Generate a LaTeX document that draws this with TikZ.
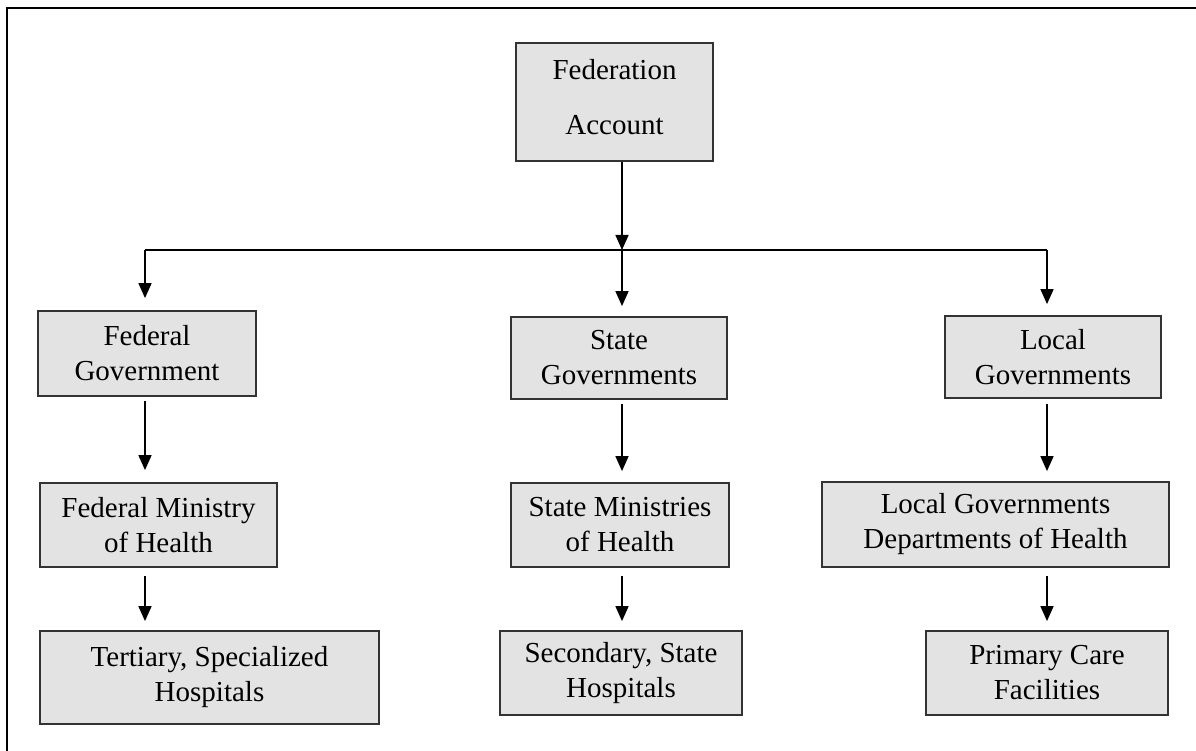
\documentclass[tikz,border=0pt]{standalone}
\usepackage{fontspec}
\setmainfont{Liberation Serif}
\usetikzlibrary{arrows.meta}
\definecolor{boxfill}{HTML}{E3E3E3}
\definecolor{boxline}{HTML}{333333}
\begin{document}
\begin{tikzpicture}[x=1pt,y=-1pt,
  box/.style={draw=boxline, line width=1.8pt, fill=boxfill, align=center,
    inner sep=0pt, font=\fontsize{29}{35}\selectfont},
  arr/.style={line width=1.6pt, -{Triangle[length=15pt,width=13pt]}},
  plain/.style={line width=1.6pt}]
\useasboundingbox (0,0) rectangle (1196,751);
% outer frame
\draw[line width=2.2pt] (7,751) -- (7,8) -- (1196,8);
% nodes
\node[box, minimum width=197pt, minimum height=118pt] (fa) at (614.5,102) {};
\node[font=\fontsize{29}{35}\selectfont, align=center, inner sep=0pt] (fat) at (614.5,97) {Federation\\[20pt]Account};
\node[box, minimum width=218pt, minimum height=85pt] (fg) at (147,353.5) {Federal\\Government};
\node[box, minimum width=216pt, minimum height=82pt] (sg) at (619,358) {State\\Governments};
\node[box, minimum width=216pt, minimum height=82pt] (lg) at (1053,357) {Local\\Governments};
\node[box, minimum width=237pt, minimum height=84pt] (fm) at (158.5,525) {Federal Ministry\\of Health};
\node[box, minimum width=218pt, minimum height=84pt] (sm) at (620,525) {State Ministries\\of Health};
\node[box, minimum width=347pt, minimum height=85pt] (ld) at (995.5,524.5) {Local Governments\\Departments of Health};
\node[box, minimum width=339pt, minimum height=93pt] (th) at (209.5,677.5) {Tertiary, Specialized\\Hospitals};
\node[box, minimum width=242pt, minimum height=84pt] (sh) at (621,673) {Secondary, State\\Hospitals};
\node[box, minimum width=242pt, minimum height=84pt] (pc) at (1047,673) {Primary Care\\Facilities};
% junction coordinates
\coordinate (jl) at (145,250);
\coordinate (jm) at (622,250);
\coordinate (jr) at (1047,250);
% connectors
\draw[arr] (fa.south -| jm) -- (jm);
\draw[plain] (jl) -- (jr);
\draw[arr, shorten >=12pt] (jl) -- (fg.north -| jl);
\draw[arr, shorten >=10pt] (jm) -- (sg.north -| jm);
\draw[arr, shorten >=11pt] (jr) -- (lg.north -| jr);
\draw[arr, shorten <=4pt, shorten >=12pt] (fg.south -| jl) -- (fm.north -| jl);
\draw[arr, shorten <=4pt, shorten >=11pt] (sg.south -| jm) -- (sm.north -| jm);
\draw[arr, shorten <=5pt, shorten >=10pt] (lg.south -| jr) -- (ld.north -| jr);
\draw[arr, shorten <=8pt, shorten >=9pt] (fm.south -| jl) -- (th.north -| jl);
\draw[arr, shorten <=8pt, shorten >=9pt] (sm.south -| jm) -- (sh.north -| jm);
\draw[arr, shorten <=8pt, shorten >=9pt] (ld.south -| jr) -- (pc.north -| jr);
\end{tikzpicture}
\end{document}
